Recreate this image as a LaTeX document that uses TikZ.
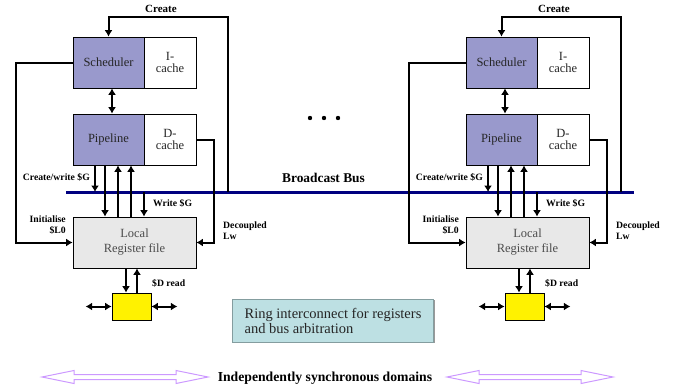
\documentclass[tikz,border=0pt]{standalone}
\usepackage{fontspec}
\setmainfont{Liberation Serif}
\usetikzlibrary{arrows.meta,shadows}

\definecolor{corefill}{HTML}{9999CC}
\definecolor{regfill}{HTML}{E8E8E8}
\definecolor{ringfill}{HTML}{BDE0E3}
\definecolor{busblue}{HTML}{000080}
\definecolor{synclav}{HTML}{CC99FF}

\begin{document}
\begin{tikzpicture}[x=1pt,y=-1pt,line join=miter,
  core/.style={draw,line width=0.8pt,fill=corefill,minimum width=71,minimum height=51,
    inner sep=0,align=center,text=black!85,font=\fontsize{12.5}{12}\selectfont},
  cachebox/.style={core,fill=white,minimum width=52},
  regbox/.style={draw,line width=0.8pt,fill=regfill,minimum width=123,minimum height=51,
    inner sep=0,align=center,text=black!70,font=\fontsize{12.5}{15}\selectfont},
  lbl/.style={inner sep=0,font=\fontsize{9.7}{11}\selectfont\bfseries},
  arr/.style={line width=2pt,-{Latex[length=6.5pt,width=8pt]}},
  dbl/.style={line width=2pt,{Latex[length=6.5pt,width=8pt]}-{Latex[length=6.5pt,width=8pt]}},
  busline/.style={line width=3pt,busblue},
  sync/.style={draw=synclav,line width=1pt,fill=white}]
  \useasboundingbox (0,0) rectangle (678,391);

  \coordinate (busw) at (66,192);
  \coordinate (buse) at (634,192);
  \draw[busline] (busw) -- (buse);
  \node[lbl,font=\fontsize{13.4}{15}\selectfont\bfseries] (bcast) at (323.5,178) {Broadcast Bus};

  \foreach \p/\dx in {l/0,r/393}{
  \begin{scope}[shift={(\dx,0)}]
    \node[core] (sch\p) at (108.5,62.5) {Scheduler};
    \node[cachebox] (ic\p) at (170,62.5) {I-\\cache};
    \node[core] (pip\p) at (108.5,139.5) {Pipeline};
    \node[cachebox] (dc\p) at (170,139.5) {D-\\cache};
    \node[regbox] (rf\p) at (134.5,242.5) {Local\\Register file};
    \node[draw,line width=0.8pt,fill=yellow,minimum width=39,minimum height=27,inner sep=0] (yb\p) at (131.5,306.5) {};

    \draw[arr] (busw -| 228,0) |- (sch\p.north |- 0,17) -- (sch\p.north);
    \draw[arr] (sch\p.west) -- (sch\p.west -| 16,0) |- (rf\p.west);
    \draw[arr] (dc\p.east) -- (dc\p.east -| 214,0) |- (rf\p.east);
    \draw[dbl] (sch\p.south -| 112,0) -- (pip\p.north -| 112,0);
    \draw[arr] (pip\p.south -| 95,0) -- (busw -| 95,0);
    \draw[arr] (pip\p.south -| 105,0) -- (rf\p.north -| 105,0);
    \draw[arr] (rf\p.north -| 118,0) -- (pip\p.south -| 118,0);
    \draw[arr] (rf\p.north -| 131,0) -- (pip\p.south -| 131,0);
    \draw[arr] (busw -| 144,0) -- (rf\p.north -| 144,0);
    \draw[arr] (rf\p.south -| 126,0) -- (yb\p.north -| 126,0);
    \draw[arr] (yb\p.north -| 137,0) -- (rf\p.south -| 137,0);
    \draw[dbl] (yb\p.west) -- +(-26,0);
    \draw[dbl] (yb\p.east) -- +(26,0);

    \node[lbl,font=\fontsize{11}{12}\selectfont\bfseries] (cr\p) at (161,9) {Create};
    \node[lbl,anchor=east] (cw\p) at (90,177) {Create/write \$G};
    \node[lbl,anchor=west] (wg\p) at (153,203) {Write \$G};
    \node[lbl,anchor=east,align=right] (ini\p) at (66,225) {Initialise\\\$L0};
    \node[lbl,anchor=west,align=left] (dec\p) at (223,231) {Decoupled\\Lw};
    \node[lbl,anchor=west] (dr\p) at (152,283) {\$D read};
  \end{scope}}

  \node[fill=ringfill,draw=ringfill!70!black,line width=0.6pt,minimum height=43,inner xsep=12,inner ysep=0,
    align=left,text=black!85,font=\fontsize{14.5}{15}\selectfont,
    drop shadow={shadow xshift=1.2pt,shadow yshift=-1.2pt,fill=gray,opacity=0.8}]
    (ring) at (333,320.5) {Ring interconnect for registers\\and bus arbitration};

  \fill (310,118) circle[radius=2.2pt] (324,118) circle[radius=2.2pt] (338,118) circle[radius=2.2pt];

  \foreach \sx in {0,405}{
    \draw[sync,shift={(\sx,0)}] (42,377) -- (74,370.5) -- (74,374.5) -- (176,374.5) -- (176,370.5)
      -- (208,377) -- (176,383.5) -- (176,379.5) -- (74,379.5) -- (74,383.5) -- cycle;
  }
  \node[lbl,font=\fontsize{13.7}{15}\selectfont\bfseries] (dom) at (325,378) {Independently synchronous domains};
\end{tikzpicture}
\end{document}
